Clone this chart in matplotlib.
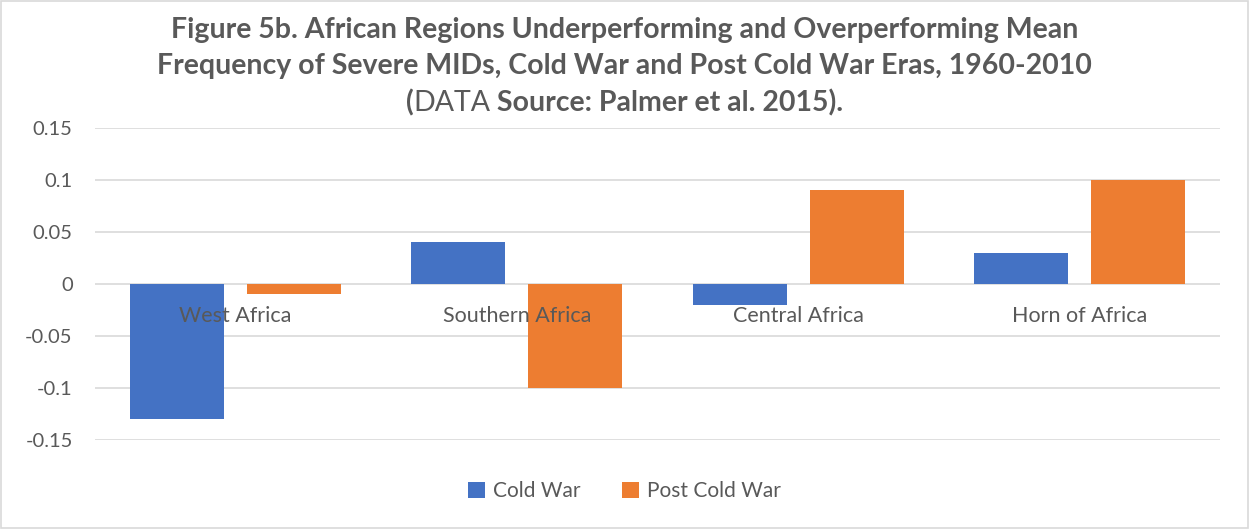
import numpy as np
import matplotlib
matplotlib.use("Agg")
import matplotlib.pyplot as plt
from matplotlib.offsetbox import TextArea, HPacker, AnchoredOffsetbox
from matplotlib.patches import Rectangle

plt.rcParams['font.family'] = ['Lato', 'DejaVu Sans']

regions = ['West Africa', 'Southern Africa', 'Central Africa', 'Horn of Africa']
cold_war = [-0.13, 0.04, -0.02, 0.03]
post_cold_war = [-0.01, -0.10, 0.09, 0.10]
yticks = [-0.15, -0.1, -0.05, 0, 0.05, 0.1, 0.15]
ytick_labels = ['-0.15', '-0.1', '-0.05', '0', '0.05', '0.1', '0.15']

blue = '#4472C4'
orange = '#ED7D31'
grey_text = '#595959'

fig = plt.figure(figsize=(12.49, 5.29), dpi=100)
fig.patches.append(Rectangle((0.001, 0.002), 0.998, 0.996, transform=fig.transFigure,
                             fill=False, edgecolor='#D9D9D9', linewidth=1.2))
ax = fig.add_axes([0.076, 0.168, 0.901, 0.590])

x = np.arange(len(regions))
w = 0.334
ax.bar(x - 0.208, cold_war, w, color=blue, label='Cold War', zorder=3)
ax.bar(x + 0.208, post_cold_war, w, color=orange, label='Post Cold War', zorder=3)

ax.set_xlim(-0.5, len(regions) - 0.5)
ax.set_ylim(-0.15, 0.15)
ax.set_yticks(yticks)
ax.set_yticklabels(ytick_labels)
ax.yaxis.grid(True, color='#D9D9D9', linewidth=1.2, zorder=0)
ax.set_axisbelow(True)
ax.tick_params(axis='y', length=0, labelsize=14.5, labelcolor=grey_text, pad=16)
ax.set_xticks([])
for s in ax.spines.values():
    s.set_visible(False)

# category labels sit just under the zero line
for xi, name in zip(x, regions):
    ax.text(xi, -0.021, name, ha='center', va='top', fontsize=15.5, color=grey_text, zorder=4)

leg = fig.legend(loc='center', bbox_to_anchor=(0.5, 0.072), ncol=2, frameon=False,
                 fontsize=15, handlelength=0.8, handleheight=0.8, columnspacing=2.0,
                 handletextpad=0.4, labelcolor=grey_text)

# title
tcol = '#595959'
tsize = 20.5
fig.text(0.5, 0.943, 'Figure 5b. African Regions Underperforming and Overperforming Mean',
         ha='center', va='center', fontsize=tsize, fontweight='bold', color=tcol)
fig.text(0.5, 0.875, 'Frequency of Severe MIDs, Cold War and Post Cold War Eras, 1960-2010',
         ha='center', va='center', fontsize=tsize, fontweight='bold', color=tcol)
parts = [TextArea('(', textprops=dict(fontsize=tsize, fontweight='bold', color=tcol)),
         TextArea('DATA', textprops=dict(fontsize=tsize, color=tcol)),
         TextArea(' Source: Palmer et al. 2015).', textprops=dict(fontsize=tsize, fontweight='bold', color=tcol))]
box = HPacker(children=parts, pad=0, sep=0, align='baseline')
anch = AnchoredOffsetbox(loc='center', child=box, frameon=False, pad=0,
                         bbox_to_anchor=(0.5, 0.806), bbox_transform=fig.transFigure)
fig.add_artist(anch)

fig.savefig('out.png', dpi=100)
